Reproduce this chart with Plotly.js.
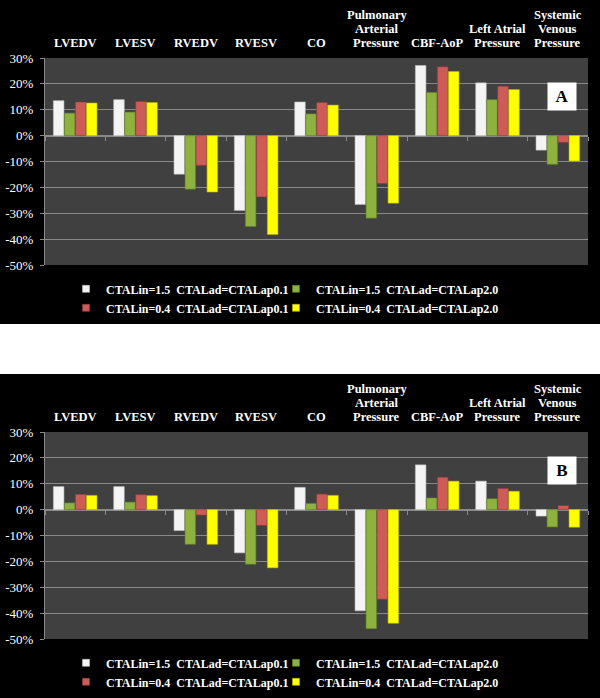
<!DOCTYPE html>
<html>
<head>
<meta charset="utf-8">
<script src="https://cdn.plot.ly/plotly-3.0.1.min.js"></script>
<style>
  html, body { margin: 0; padding: 0; background: #ffffff; }
  #chartA, #chartB { width: 600px; height: 324px; }
  #gap { width: 600px; height: 50px; background: #ffffff; }
</style>
</head>
<body>
<div id="chartA"></div>
<div id="gap"></div>
<div id="chartB"></div>
<script>
// ---- data ----
const categories = ['LVEDV', 'LVESV', 'RVEDV', 'RVESV', 'CO', 'PAP', 'CBF-AoP', 'LAP', 'SVP'];
const categoryLabels = [
  ['LVEDV'], ['LVESV'], ['RVEDV'], ['RVESV'], ['CO'],
  ['Pulmonary', 'Arterial', 'Pressure'], ['CBF-AoP'],
  ['Left Atrial', 'Pressure'], ['Systemic', 'Venous', 'Pressure']
];
const seriesNames = [
  'CTALin=1.5\u00a0\u00a0CTALad=CTALap0.1',
  'CTALin=1.5\u00a0\u00a0CTALad=CTALap2.0',
  'CTALin=0.4\u00a0\u00a0CTALad=CTALap0.1',
  'CTALin=0.4\u00a0\u00a0CTALad=CTALap2.0'
];
// Panel A (% change)
const a_lin15_ap01 = [13.5, 13.9, -14.9, -28.9, 13.0, -26.6, 27.1, 20.4, -5.6];
const a_lin15_ap20 = [8.7, 9.1, -20.7, -35.1, 8.4, -31.9, 16.7, 13.9, -11.1];
const a_lin04_ap01 = [13.0, 13.2, -11.5, -23.7, 12.8, -18.5, 26.6, 19.1, -2.6];
const a_lin04_ap20 = [12.6, 12.8, -21.8, -38.2, 11.8, -26.1, 24.8, 17.8, -9.8];
// Panel B (% change)
const b_lin15_ap01 = [8.9, 8.9, -8.1, -16.7, 8.6, -39.1, 17.3, 11.0, -2.5];
const b_lin15_ap20 = [2.6, 2.9, -13.4, -21.1, 2.4, -46.0, 4.5, 4.2, -6.7];
const b_lin04_ap01 = [5.9, 5.8, -2.1, -6.1, 6.0, -34.6, 12.5, 8.2, 1.6];
const b_lin04_ap20 = [5.5, 5.4, -13.4, -22.5, 5.5, -43.9, 11.0, 7.1, -6.8];
// y axis ticks
const yTickVals = [-50, -40, -30, -20, -10, 0, 10, 20, 30];
const yTickText = ['-50%', '-40%', '-30%', '-20%', '-10%', '0%', '10%', '20%', '30%'];

// ---- styles ----
const colors = ['#f4f4f4', '#8db23f', '#cd5c59', '#ffff00'];
const edgeColors = ['#bdbdbd', '#5f7d25', '#8e3a38', '#b8b300'];
const legendOf = ['legend', 'legend2', 'legend', 'legend2'];
const SERIF = '"Liberation Serif", "Times New Roman", serif';

function makeFigure(divId, series, panelLetter) {
  const traces = series.map((vals, i) => ({
    type: 'bar',
    x: categories,
    y: vals,
    name: seriesNames[i],
    showlegend: false,
    marker: { color: colors[i], line: { color: edgeColors[i], width: 0.6 } },
    hoverinfo: 'x+y+name'
  }));
  // legend entries (small square keys like the original)
  series.forEach((vals, i) => {
    traces.push({
      type: 'scatter', mode: 'markers', x: [categories[0]], y: [null],
      name: seriesNames[i], legend: legendOf[i], showlegend: true,
      marker: { symbol: 'square', size: 7, color: colors[i], line: { color: edgeColors[i], width: 0.6 } },
      hoverinfo: 'skip'
    });
  });
  // helper trace for the zero category axis (ticks at category boundaries)
  traces.push({
    type: 'scatter', mode: 'markers', x: categories, y: categories.map(() => null),
    xaxis: 'x2', yaxis: 'y', showlegend: false, hoverinfo: 'skip'
  });

  const annotations = [];
  categoryLabels.forEach((lines, ci) => {
    const n = lines.length;
    lines.forEach((line, li) => {
      annotations.push({
        x: categories[ci], xref: 'x', y: 1, yref: 'paper',
        yanchor: 'middle', xanchor: 'center', showarrow: false,
        yshift: 15 + 14.2 * (n - 1 - li),
        text: '<b>' + line + '</b>',
        font: { family: SERIF, size: 12.5, color: '#ffffff' }
      });
    });
  });
  annotations.push({
    x: 0.952, xref: 'paper', y: 0.814, yref: 'paper',
    xanchor: 'center', yanchor: 'middle', showarrow: false,
    text: '<b>' + panelLetter + '</b>',
    font: { family: SERIF, size: 17, color: '#000000' },
    bgcolor: '#ffffff', width: 24, height: 23, borderpad: 2
  });

  const legendFont = { family: SERIF, size: 12, color: '#ffffff', weight: 'bold' };
  const layout = {
    width: 600, height: 324,
    paper_bgcolor: '#000000', plot_bgcolor: '#404040',
    margin: { l: 45, r: 12, t: 58, b: 59, autoexpand: false },
    barmode: 'group', bargap: 0.27, bargroupgap: 0.04,
    font: { family: SERIF, color: '#ffffff' },
    xaxis: {
      type: 'category', categoryorder: 'array', categoryarray: categories,
      range: [-0.5, 8.5], showticklabels: false, showgrid: false,
      showline: false, ticks: '', zeroline: false, fixedrange: true
    },
    xaxis2: {
      type: 'category', categoryorder: 'array', categoryarray: categories,
      overlaying: 'x', anchor: 'free', position: 0.625, side: 'bottom',
      range: [-0.5, 8.5], showticklabels: false, showgrid: false,
      showline: true, linecolor: '#8a8a8a', linewidth: 1,
      ticks: 'outside', ticklen: 4, tickcolor: '#8a8a8a', tickson: 'boundaries',
      layer: 'below traces', zeroline: false, fixedrange: true
    },
    yaxis: {
      range: [-50, 30], tickvals: yTickVals, ticktext: yTickText,
      showgrid: true, gridcolor: '#8a8a8a', gridwidth: 1,
      showline: true, linecolor: '#8a8a8a', linewidth: 1,
      ticks: 'outside', ticklen: 4, tickcolor: '#8a8a8a',
      zeroline: false, ticklabelstandoff: 4,
      tickfont: { family: SERIF, size: 13, color: '#ffffff' }, fixedrange: true
    },
    legend: {
      orientation: 'v', x: 0.0387, xanchor: 'left', y: -0.045, yanchor: 'top',
      bgcolor: 'rgba(0,0,0,0)', font: legendFont, tracegroupgap: 0,
      itemclick: false, itemdoubleclick: false
    },
    legend2: {
      orientation: 'v', x: 0.4254, xanchor: 'left', y: -0.045, yanchor: 'top',
      bgcolor: 'rgba(0,0,0,0)', font: legendFont, tracegroupgap: 0,
      itemclick: false, itemdoubleclick: false
    },
    annotations: annotations,
    showlegend: true
  };
  Plotly.newPlot(divId, traces, layout, { displayModeBar: false, staticPlot: true });
}

makeFigure('chartA', [a_lin15_ap01, a_lin15_ap20, a_lin04_ap01, a_lin04_ap20], 'A');
makeFigure('chartB', [b_lin15_ap01, b_lin15_ap20, b_lin04_ap01, b_lin04_ap20], 'B');
</script>
</body>
</html>
